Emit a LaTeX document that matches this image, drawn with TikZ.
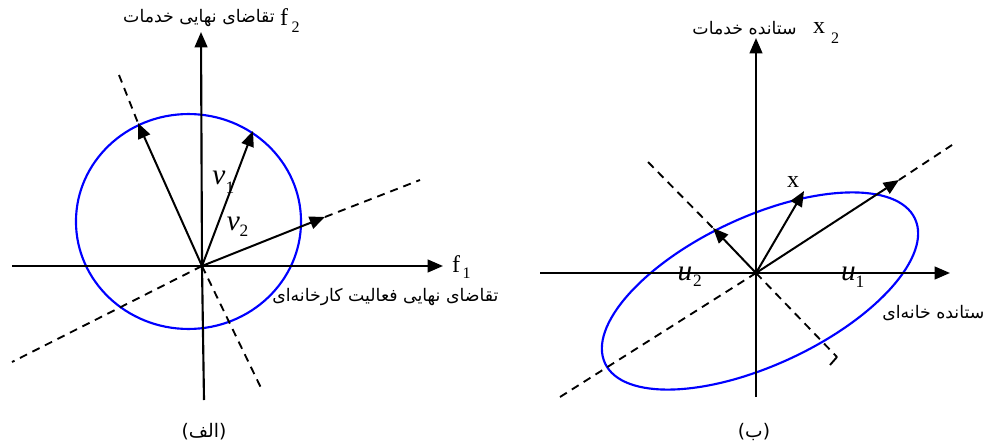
\documentclass[tikz,border=0pt]{standalone}
\usepackage{fontspec}
\setmainfont{Liberation Serif}
\newfontfamily\fa[Script=Arabic]{DejaVu Sans}
\TeXXeTstate=1
\usetikzlibrary{arrows.meta}
\begin{document}
\begin{tikzpicture}[x=0.75pt,y=-0.75pt,
  axis/.style={line width=1.6pt,-{Triangle[length=11.5pt,width=9.5pt]}},
  vec/.style={line width=1.5pt,-{Triangle[length=11.5pt,width=9.5pt]}},
  plain/.style={line width=1.6pt},
  dline/.style={line width=1.4pt,dash pattern=on 6pt off 4.5pt},
  ell/.style={draw=blue,line width=1.6pt},
  fatext/.style={font=\fa\fontsize{13}{15}\selectfont,inner sep=0pt},
  captext/.style={font=\fa\fontsize{14}{16}\selectfont,inner sep=0pt},
  lat/.style={font=\fontsize{18}{18}\selectfont,inner sep=0pt},
  latsub/.style={font=\fontsize{12}{12}\selectfont,inner sep=0pt},
  mvar/.style={font=\itshape\fontsize{22}{22}\selectfont,inner sep=0pt},
  msub/.style={font=\fontsize{13}{13}\selectfont,inner sep=0pt}
]
\useasboundingbox (0,0) rectangle (986,443);

% ---------- left figure (alef) ----------
\coordinate (O1) at (202,266);
\coordinate (V1t) at (201,32);
\coordinate (V1b) at (204,400);
\coordinate (H1l) at (12,266);
\coordinate (H1r) at (443,266);
\coordinate (D1a) at (119,75);
\coordinate (D1b) at (263,392);
\coordinate (D2a) at (12,362);
\coordinate (D2b) at (420,180);
\coordinate (P1) at (138,123);
\coordinate (P2) at (253,131);
\coordinate (P3) at (325,217);

\draw[ell] (188.5,221.5) ellipse [x radius=84.4pt, y radius=80.6pt];
\draw[dline] (D1a) -- (P1);
\draw[dline] (O1) -- (D1b);
\draw[dline] (O1) -- (D2a);
\draw[dline] (P3) -- (D2b);
\draw[plain] (V1b) -- (O1);
\draw[axis] (O1) -- (V1t);
\draw[axis] (H1l) -- (H1r);

\node[mvar] (v1) at (219,177.5) {v};
\node[msub] (v1s) at (230,188) {1};
\node[mvar] (v2) at (233.5,223.5) {v};
\node[msub] (v2s) at (244,231) {2};

\draw[vec] (O1) -- (P1);
\draw[vec] (O1) -- (P2);
\draw[vec] (O1) -- (P3);

\node[fatext,anchor=east] (t1) at (275,18) {\beginR تقاضای نهایی خدمات\endR};
\node[lat] (f2) at (284,17.5) {f};
\node[latsub] (f2s) at (295.5,27) {2};
\node[lat] (f1) at (456,264) {f};
\node[latsub] (f1s) at (466.5,273.5) {1};
\node[fatext,anchor=west] (t2) at (272,297) {\beginR تقاضای نهایی فعالیت کارخانه‌ای\endR};
\node[captext] (cap1) at (204,432) {\beginR (الف)\endR};

% ---------- right figure (be) ----------
\coordinate (O2) at (756,273);
\coordinate (V2t) at (756,38);
\coordinate (V2b) at (756,397);
\coordinate (H2l) at (540,273);
\coordinate (H2r) at (950,273);
\coordinate (E1a) at (560,397);
\coordinate (E1b) at (952,145);
\coordinate (E2a) at (648,162);
\coordinate (E2b) at (837,357);
\coordinate (E2c) at (830,365);
\coordinate (Q1) at (713,228);
\coordinate (Q2) at (804,191);
\coordinate (Q3) at (899,180);

\draw[ell] (760,291) ellipse [x radius=128.25pt, y radius=55.5pt, rotate=25];
\draw[dline] (E1a) -- (O2);
\draw[dline] (Q3) -- (E1b);
\draw[dline] (E2a) -- (Q1);
\draw[dline] (O2) -- (E2b);
\draw[line width=1.4pt] (E2b) -- (E2c);
\draw[plain] (V2b) -- (O2);
\draw[axis] (O2) -- (V2t);
\draw[axis] (H2l) -- (H2r);

\node[mvar] (u2) at (685,273.5) {u};
\node[msub] (u2s) at (697.5,281) {2};
\node[mvar] (u1) at (848.5,273.5) {u};
\node[msub] (u1s) at (860,282) {1};
\node[lat] (xl) at (793,182) {x};

\draw[vec] (O2) -- (Q1);
\draw[vec] (O2) -- (Q2);
\draw[vec] (O2) -- (Q3);

\node[fatext,anchor=east] (t3) at (797,28) {\beginR ستانده خدمات\endR};
\node[lat] (x2) at (819,28) {x};
\node[latsub] (x2s) at (835,38) {2};
\node[fatext,anchor=west] (t4) at (882,313) {\beginR ستانده خانه‌ای\endR};
\node[captext] (cap2) at (754,432) {\beginR (ب)\endR};
\end{tikzpicture}
\end{document}
